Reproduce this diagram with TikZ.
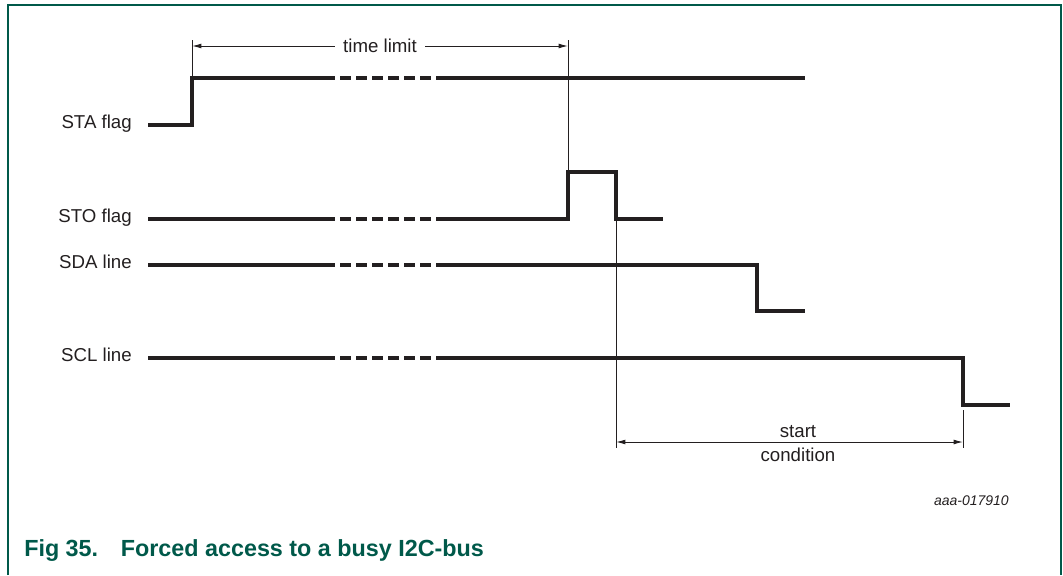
\documentclass[tikz,border=0pt]{standalone}
\usepackage{fontspec}
\setmainfont{Liberation Sans}
\usetikzlibrary{arrows.meta}
\definecolor{nxpgreen}{HTML}{00594A}
\definecolor{ink}{HTML}{231F20}
\begin{document}
\begin{tikzpicture}[x=0.75pt,y=-0.75pt,
  sig/.style={line width=2.3pt, draw=ink, line cap=butt, line join=miter},
  sigdash/.style={sig, dash pattern=on 8.25pt off 3.75pt},
  thinline/.style={line width=0.7pt, draw=ink},
  dim/.style={thinline, {Latex[length=7pt,width=3.6pt]}-{Latex[length=7pt,width=3.6pt]}},
  lbl/.style={font=\fontsize{14}{16}\selectfont, text=ink, inner sep=0pt},
  ]
\useasboundingbox (0,0) rectangle (1063,575);
\draw[nxpgreen, line width=1.5pt] (8,575) -- (8,4.5) -- (1061,4.5) -- (1061,575);

% signal labels
\node[lbl, anchor=mid east] (sta) at (132,125) {STA flag};
\node[lbl, anchor=mid east] (sto) at (132,219) {STO flag};
\node[lbl, anchor=mid east] (sda) at (132,265) {SDA line};
\node[lbl, anchor=mid east] (scl) at (132,358) {SCL line};

% STA flag
\draw[sig] (148,125) -- (192,125) -- (192,78) -- (324,78);
\draw[sigdash] (324,78) -- (436,78);
\draw[sig] (436,78) -- (805,78);
% STO flag
\draw[sig] (148,219) -- (324,219);
\draw[sigdash] (324,219) -- (436,219);
\draw[sig] (436,219) -- (568,219) -- (568,172) -- (616,172) -- (616,219) -- (663,219);
% SDA line
\draw[sig] (148,265) -- (324,265);
\draw[sigdash] (324,265) -- (436,265);
\draw[sig] (436,265) -- (757,265) -- (757,311) -- (805,311);
% SCL line
\draw[sig] (148,358) -- (324,358);
\draw[sigdash] (324,358) -- (436,358);
\draw[sig] (436,358) -- (963,358) -- (963,405) -- (1010,405);

% time limit
\coordinate (tlA) at (192,40);
\coordinate (tlB) at (568,40);
\coordinate (tlAb) at (192,78);
\coordinate (tlBb) at (568,172);
\draw[thinline] (tlA) -- (tlAb);
\draw[thinline] (tlB) -- (tlBb);
\draw[dim] (192,46) -- (568,46);
\node[lbl, fill=white, inner xsep=6pt, inner ysep=2pt] (tl) at (380,46) {time limit};

% start condition
\coordinate (scA) at (616,219);
\coordinate (scAb) at (616,448);
\coordinate (scB) at (963,410);
\coordinate (scBb) at (963,448);
\draw[thinline] (scA) -- (scAb);
\draw[thinline] (scB) -- (scBb);
\draw[dim] (616,442) -- (963,442);
\node[lbl, fill=white, inner xsep=8pt, inner ysep=2pt] (sc1) at (798,432) {start};
\node[lbl] (sc2) at (798,455) {condition};

% figure id
\node[font=\fontsize{10.5}{12}\selectfont\itshape, text=ink, inner sep=0pt, anchor=mid east] (id) at (1009,502) {aaa-017910};

% caption
\node[font=\fontsize{17.5}{20}\selectfont\bfseries, text=nxpgreen, inner sep=0pt, anchor=base west] (cap) at (24,556) {Fig 35.\hspace{17pt}Forced access to a busy I2C-bus};
\end{tikzpicture}
\end{document}
